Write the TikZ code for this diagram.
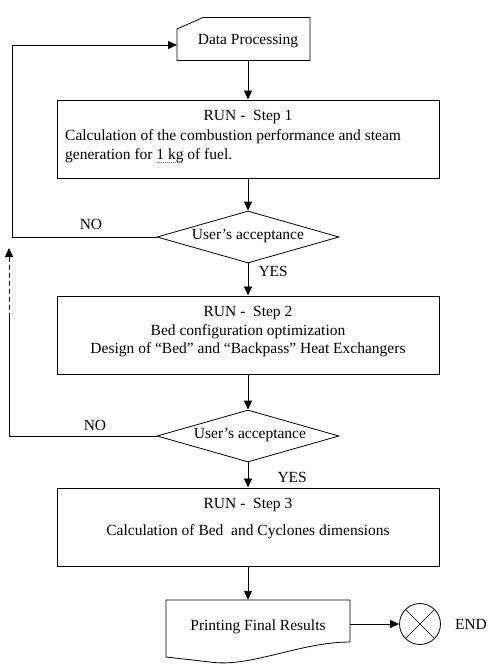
\documentclass[tikz,border=0pt]{standalone}
\usepackage{fontspec}
\setmainfont{Liberation Serif}
\usetikzlibrary{arrows.meta,shapes.geometric}
\definecolor{spellcol}{RGB}{150,80,200}
\newcommand\spellmark[1]{\setbox0\hbox{#1}\rlap{\textcolor{spellcol}{\raisebox{-3pt}{\leaders\hbox to 2pt{\hss\rule{0.8pt}{0.8pt}\hss}\hskip\wd0}}}\box0\relax}
\begin{document}
\begin{tikzpicture}[x=1pt,y=-1pt,
  every node/.style={font=\fontsize{15.5}{19}\selectfont},
  stepbox/.style={draw,line width=1pt,minimum width=382pt,minimum height=78pt,inner sep=0pt},
  dia/.style={draw,diamond,line width=0.8pt,minimum width=182pt,minimum height=52pt,inner sep=0pt},
  arr/.style={line width=0.9pt,-{Triangle[length=9pt,width=8pt]}},
  ln/.style={line width=0.9pt}]
\useasboundingbox (0,0) rectangle (495,670);
% card: Data Processing
\node[minimum width=133pt,minimum height=43pt,inner sep=0pt] (card) at (243.5,39) {};
\draw[line width=0.8pt] (177,29) -- (203,17.5) -- (310,17.5) -- (310,60.5) -- (177,60.5) -- cycle;
\node (cardt) at (248,41) {Data Processing};
% step 1
\node[stepbox] (b1) at (248,139) {};
\node (b1a) at (248,117) {RUN -\ \ Step 1};
\node[anchor=west,inner sep=0pt] (b1b) at (65,137) {Calculation of the combustion performance and steam};
\node[anchor=west,inner sep=0pt] (b1c) at (65,156) {generation for \spellmark{1 kg} of fuel.};
% decision 1
\node[dia] (d1) at (248,237) {};
\node (d1t) at (248,236) {User’s acceptance};
% step 2
\node[stepbox] (b2) at (248,335) {};
\node (b2a) at (248,313) {RUN -\ \ Step 2};
\node (b2b) at (248,332) {Bed configuration optimization};
\node (b2c) at (248,350) {Design of “Bed” and “Backpass” Heat Exchangers};
% decision 2
\node[dia] (d2) at (248,436) {};
\node (d2t) at (250,435) {User’s acceptance};
% step 3
\node[stepbox] (b3) at (248,527) {};
\node (b3a) at (248,505) {RUN -\ \ Step 3};
\node (b3b) at (248,532) {Calculation of Bed\ \ and Cyclones dimensions};
% document
\node[minimum width=184pt,minimum height=48pt,inner sep=0pt] (doc) at (258,624) {};
\draw[line width=0.8pt] (166,657) -- (166,600) -- (350,600) -- (350,642)
   .. controls (300,642) and (250,668) .. (210,662) -- (166,657);
\node (doct) at (258,627) {Printing Final Results};
% end
\node[draw,circle,line width=0.8pt,minimum size=41pt,inner sep=0pt] (endc) at (420,624) {};
\draw[line width=0.6pt] (endc.north west) -- (endc.south east);
\draw[line width=0.6pt] (endc.north east) -- (endc.south west);
\node (endt) at (471,624) {END};
% connectors
\draw[arr] (b1.north |- card.south) -- (b1.north);
\draw[arr] (b1.south) -- (d1.north);
\draw[arr] (d1.south) -- (b2.north);
\draw[arr] (b2.south) -- (d2.north);
\draw[arr] (d2.south) -- (b3.north);
\draw[arr] (b3.south) -- (b3.south |- doc.north);
\draw[arr] (doc.east) -- (endc.west);
\coordinate (l1) at (12,237);
\coordinate (l1t) at (12,45);
\draw[ln] (d1.west) -- (l1) -- (l1t);
\draw[arr] (l1t) -- (177,45);
\coordinate (l2) at (9,436);
\coordinate (l2m) at (9,318);
\coordinate (l2t) at (9,248);
\draw[ln] (d2.west) -- (l2) -- (l2m);
\draw[arr,dashed,dash pattern=on 5pt off 3pt] (l2m) -- (l2t);
% labels
\node (yes1) [anchor=west] at (255,271) {YES};
\node (yes2) [anchor=west] at (274,477) {YES};
\node (no1) at (91,224) {NO};
\node (no2) at (95,425) {NO};
\end{tikzpicture}
\end{document}
